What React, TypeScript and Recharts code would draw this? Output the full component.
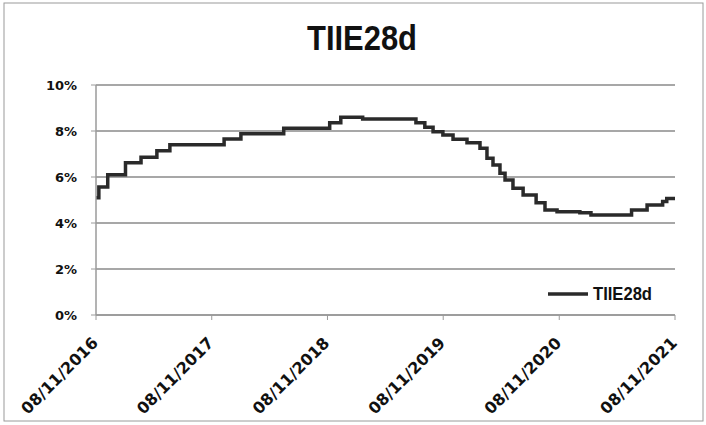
import { LineChart, Line, XAxis, YAxis, CartesianGrid, Legend } from 'recharts';

// TIIE 28 day rate (%), step changes
const stepDates = [
  '2016-11-08', '2016-11-17', '2016-12-15', '2017-02-09', '2017-03-30', '2017-05-19',
  '2017-06-29', '2017-12-17', '2018-02-08', '2018-06-23', '2018-11-15', '2018-12-20',
  '2019-02-27', '2019-08-14', '2019-09-11', '2019-10-07', '2019-11-07', '2019-12-09',
  '2020-01-22', '2020-03-03', '2020-03-25', '2020-04-13', '2020-05-05', '2020-05-21',
  '2020-06-15', '2020-07-17', '2020-08-27', '2020-09-24', '2020-11-01', '2021-01-12',
  '2021-02-16', '2021-06-24', '2021-08-12', '2021-09-30', '2021-10-13', '2021-11-08',
];
const stepRates = [
  5.1, 5.57, 6.1, 6.62, 6.86, 7.14,
  7.4, 7.65, 7.88, 8.12, 8.36, 8.6,
  8.52, 8.36, 8.16, 7.97, 7.83, 7.64,
  7.49, 7.25, 6.81, 6.52, 6.16, 5.87,
  5.51, 5.22, 4.88, 4.57, 4.49, 4.45,
  4.35, 4.57, 4.78, 4.93, 5.07, 5.07,
];

const tickDates = ['2016-11-08', '2017-11-08', '2018-11-08', '2019-11-08', '2020-11-08', '2021-11-08'];
const tickLabels = ['08/11/2016', '08/11/2017', '08/11/2018', '08/11/2019', '08/11/2020', '08/11/2021'];
const yTicks = [0, 2, 4, 6, 8, 10];

const SERIES = 'TIIE28d';

const data = stepDates.map((d, i) => ({ t: Date.parse(d), rate: stepRates[i] }));
const xTicks = tickDates.map((d) => Date.parse(d));

function XTick({ x, y, payload }: any) {
  const i = xTicks.indexOf(payload.value);
  const ax = x + 3;
  const ay = y + 24;
  return (
    <text
      x={ax}
      y={ay}
      transform={`rotate(-45 ${ax} ${ay})`}
      textAnchor="end"
      fontFamily="'DejaVu Sans', Verdana, sans-serif"
      fontWeight="bold"
      fontSize={16}
      fill="#111"
    >
      {tickLabels[i]}
    </text>
  );
}

function LegendBox() {
  return (
    <svg width={130} height={24}>
      <line x1={3} y1={12} x2={43} y2={12} stroke="#2a2a2a" strokeWidth={3.5} />
      <text
        x={48}
        y={18}
        textLength={59}
        lengthAdjust="spacingAndGlyphs"
        fontFamily="'Liberation Sans', Arial, sans-serif"
        fontWeight="bold"
        fontSize={18}
        fill="#111"
      >
        {SERIES}
      </text>
    </svg>
  );
}

export default function App() {
  return (
    <div style={{ position: 'fixed', left: 0, top: 0, width: 706, height: 425, background: '#fff' }}>
      <svg width={706} height={425} style={{ position: 'absolute', left: 0, top: 0, pointerEvents: 'none' }}>
        <rect x={4} y={3} width={699} height={418} fill="none" stroke="#9a9a9a" strokeWidth={1} />
        <text
          x={362}
          y={50}
          textAnchor="middle"
          textLength={110}
          lengthAdjust="spacingAndGlyphs"
          fontFamily="'Liberation Sans', Arial, sans-serif"
          fontWeight="bold"
          fontSize={35}
          fill="#111"
        >
          {SERIES}
        </text>
      </svg>
      <div style={{ position: 'absolute', left: 0, top: 0 }}>
        <LineChart width={706} height={425} data={data} margin={{ top: 85, right: 31, left: 36, bottom: 10 }}>
          <CartesianGrid horizontal vertical={false} stroke="#8a8a8a" strokeWidth={1.5} />
          <XAxis
            dataKey="t"
            type="number"
            domain={[xTicks[0], xTicks[xTicks.length - 1]]}
            ticks={xTicks}
            interval={0}
            height={76}
            tick={<XTick />}
            tickSize={5}
            tickMargin={0}
            axisLine={{ stroke: '#9a9a9a', strokeWidth: 1.5 }}
            tickLine={{ stroke: '#9a9a9a' }}
          />
          <YAxis
            domain={[0, 10]}
            ticks={yTicks}
            width={60}
            tickSize={5}
            tickMargin={14}
            tickFormatter={(v: number) => `${v}%`}
            tick={{ fill: '#111', fontSize: 13, fontWeight: 'bold', fontFamily: "'DejaVu Sans', Verdana, sans-serif" }}
            axisLine={{ stroke: '#9a9a9a', strokeWidth: 1.5 }}
            tickLine={{ stroke: '#9a9a9a' }}
          />
          <Legend
            content={<LegendBox />}
            wrapperStyle={{ position: 'absolute', left: 545, top: 282, width: 130, height: 24 }}
          />
          <Line
            type="stepAfter"
            dataKey="rate"
            name={SERIES}
            stroke="#2a2a2a"
            strokeWidth={3.5}
            dot={false}
            isAnimationActive={false}
          />
        </LineChart>
      </div>
    </div>
  );
}
